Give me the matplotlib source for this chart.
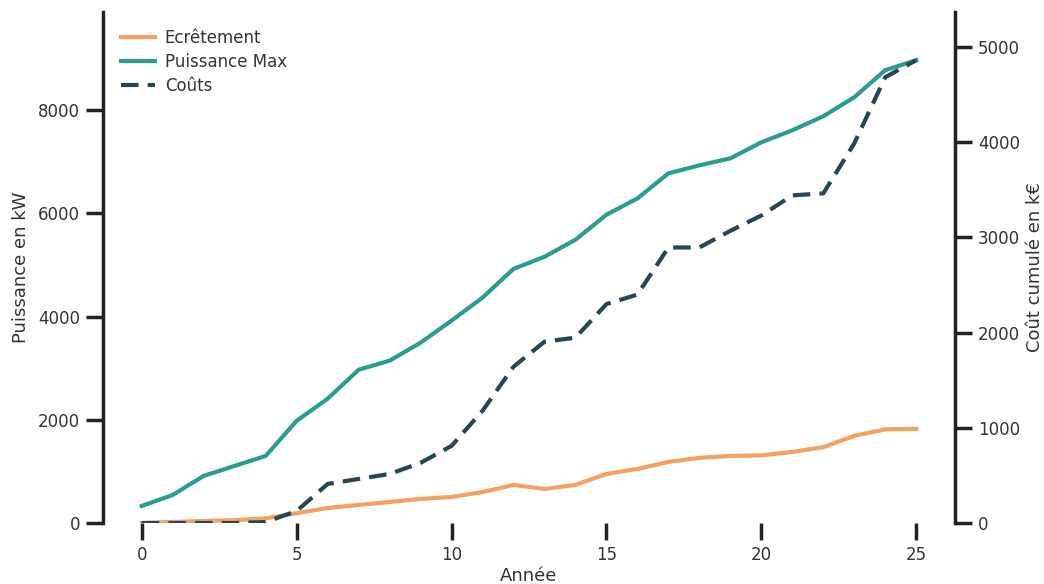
import numpy as np
import matplotlib
matplotlib.use("Agg")
import matplotlib.pyplot as plt

# Données
annees = list(range(26))
ecretement = [0, 20, 40, 55, 90, 190, 290, 350, 408, 466, 505, 600, 738, 660, 738,
              951, 1048, 1184, 1262, 1300, 1310, 1378, 1470, 1689, 1815, 1825]
puissance_max = [330, 544, 913, 1107, 1300, 1980, 2408, 2970, 3146, 3495, 3922, 4369,
                 4925, 5160, 5490, 5975, 6291, 6777, 6932, 7068, 7379, 7612, 7883,
                 8252, 8777, 8971]
couts = [0, 0, 0, 0, 10, 126, 410, 463, 515, 632, 810, 1179, 1642, 1905, 1947, 2300,
         2400, 2895, 2895, 3070, 3231, 3442, 3463, 3989, 4684, 4863]

c_ecr = "#F4A261"
c_pmax = "#2A9D8F"
c_cout = "#264653"
txt = "#333333"

plt.rcParams.update({
    "font.family": "DejaVu Sans",
    "font.size": 12,
    "text.color": txt,
    "axes.labelcolor": txt,
    "xtick.color": "#222222",
    "ytick.color": "#222222",
    "xtick.labelcolor": txt,
    "ytick.labelcolor": txt,
})

fig, ax1 = plt.subplots(figsize=(10.44, 5.84), dpi=100)
fig.subplots_adjust(left=103 / 1044, right=955 / 1044, bottom=1 - 523 / 584, top=1 - 12 / 584)

l1, = ax1.plot(annees, ecretement, color=c_ecr, lw=3, label="Ecrêtement")
l2, = ax1.plot(annees, puissance_max, color=c_pmax, lw=3, label="Puissance Max")
ax2 = ax1.twinx()
l3, = ax2.plot(annees, couts, color=c_cout, lw=3, ls=(0, (4.2, 2.2)), label="Coûts")

ax1.set_xlim(-1.25, 26.25)
ax1.set_ylim(0, max(puissance_max) * 1.104)
ax2.set_ylim(0, max(couts) * 1.104)
ax1.set_xticks(range(0, 26, 5))
ax1.set_yticks(range(0, 9000, 2000))
ax2.set_yticks(range(0, 6000, 1000))

for ax in (ax1, ax2):
    for s in ("top", "bottom"):
        ax.spines[s].set_visible(False)
    ax.tick_params(length=12.5, width=2.5, labelsize=12, pad=4)
ax1.spines["right"].set_visible(False)
ax2.spines["left"].set_visible(False)
ax1.spines["left"].set_linewidth(2.5)
ax2.spines["right"].set_linewidth(2.5)
ax1.spines["left"].set_color("#222222")
ax2.spines["right"].set_color("#222222")

ax1.set_xlabel("Année", fontsize=13, labelpad=2)
ax1.set_ylabel("Puissance en kW", fontsize=13, labelpad=6)
ax2.set_ylabel("Coût cumulé en k€", fontsize=13, labelpad=4)

ax2.legend(handles=[l1, l2, l3], loc="upper left", frameon=False, fontsize=12,
           labelspacing=0.35, handletextpad=0.6, bbox_to_anchor=(0.004, 0.996))

fig.savefig("out.png", dpi=100)
